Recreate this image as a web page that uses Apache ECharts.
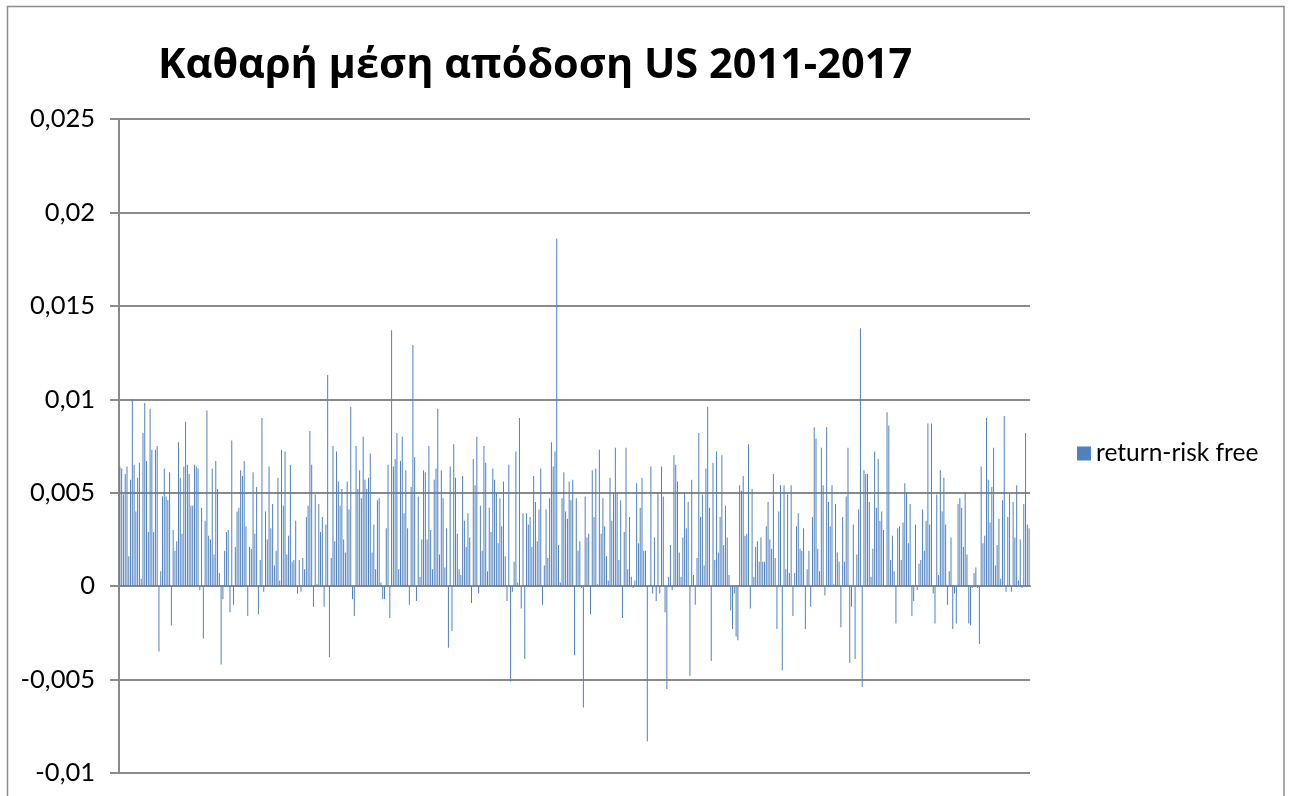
<!DOCTYPE html>
<html>
<head>
<meta charset="utf-8">
<title>Καθαρή μέση απόδοση US 2011-2017</title>
<script src="https://cdn.jsdelivr.net/npm/echarts@6/dist/echarts.min.js"></script>
<style>
  html, body { margin: 0; padding: 0; background: #ffffff; }
  #chart { width: 1293px; height: 796px; }
</style>
</head>
<body>
<div id="chart"></div>
<script>
// Net average return over the risk-free rate, US 2011-2017 (period by period)
const chartTitle = 'Καθαρή μέση απόδοση US 2011-2017';
const seriesName = 'return-risk free';

const returnsPart1 = [
  0.0064, 0.0063, 0.0049, 0.0060, 0.0064, 0.0016, 0.0057, 0.0100, 0.0065, 0.0040,
  0.0058, 0.0066, 0.0004, 0.0082, 0.0098, 0.0067, 0.0029, 0.0095, 0.0073, 0.0029,
  0.0073, 0.0075, -0.0035, 0.0008, 0.0048, 0.0063, 0.0048, 0.0046, 0.0061, -0.0021,
  0.0030, 0.0019, 0.0024, 0.0077, 0.0058, 0.0028, 0.0064, 0.0088, 0.0065, 0.0060,
  0.0043, 0.0043, 0.0065, 0.0064, 0.0063, -0.0002, 0.0042, -0.0028, 0.0035, 0.0094,
  0.0027, 0.0025, 0.0063, 0.0017, 0.0067, 0.0052, 0.0007, -0.0042, -0.0007, 0.0019,
  0.0029, 0.0030, -0.0014, 0.0078, -0.0010, 0.0021, 0.0040, 0.0042, 0.0062, 0.0059,
  0.0067, 0.0032, -0.0016, 0.0021, 0.0020, 0.0061, 0.0028, 0.0053, -0.0015, 0.0014,
  0.0090, -0.0003, 0.0040, 0.0025, 0.0064, 0.0031, 0.0044, 0.0011, 0.0019, 0.0058,
  0.0003, 0.0073, 0.0043, 0.0072, 0.0017, 0.0027, 0.0065, 0.0013, 0.0014, 0.0035,
  -0.0004, 0.0014
];

const returnsPart2 = [
  -0.0003, 0.0015, 0.0009, 0.0037, 0.0043, 0.0083, 0.0065, -0.0011, 0.0049, 0.0001,
  0.0044, 0.0029, 0.0037, -0.0011, 0.0033, 0.0113, -0.0038, 0.0015, 0.0075, 0.0024,
  0.0072, 0.0056, 0.0043, 0.0052, 0.0025, 0.0018, 0.0056, 0.0041, 0.0096, -0.0007,
  -0.0016, 0.0075, 0.0052, 0.0062, 0.0047, 0.0080, 0.0057, 0.0052, 0.0058, 0.0071,
  0.0018, 0.0033, 0.0009, 0.0046, 0.0047, 0.0002, -0.0007, -0.0007, 0.0031, 0.0065,
  -0.0017, 0.0137, 0.0064, 0.0068, 0.0082, 0.0009, 0.0067, 0.0080, 0.0039, 0.0062,
  0.0031, -0.0010, 0.0053, 0.0129, 0.0069, -0.0008, 0.0048, 0.0005, 0.0025, 0.0062,
  0.0061, 0.0025, 0.0075, 0.0030, 0.0009, 0.0057, 0.0063, 0.0095, 0.0017, 0.0062,
  0.0047, 0.0010, 0.0031, -0.0033, 0.0064, -0.0024, 0.0076, 0.0058, 0.0028, 0.0009,
  0.0006, 0.0059, 0.0035, 0.0021, 0.0039, 0.0026, -0.0009, 0.0068, 0.0054, 0.0080,
  -0.0004, 0.0043, 0.0019, 0.0075
];

const returnsPart3 = [
  0.0066, 0.0008, 0.0042, 0.0029, 0.0063, 0.0057, 0.0050, 0.0023, 0.0047, 0.0032,
  0.0056, 0.0016, -0.0008, 0.0065, -0.0051, -0.0003, 0.0013, 0.0072, 0.0002, 0.0090,
  -0.0012, 0.0039, -0.0039, 0.0039, 0.0033, 0.0037, 0.0021, 0.0059, 0.0045, 0.0024,
  0.0041, 0.0063, -0.0010, 0.0011, 0.0041, 0.0015, 0.0047, 0.0077, 0.0064, 0.0072,
  0.0186, 0.0022, 0.0002, 0.0047, 0.0061, 0.0040, 0.0036, 0.0056, 0.0046, 0.0057,
  -0.0037, 0.0047, 0.0019, 0.0024, -0.0001, -0.0065, 0.0048, 0.0026, 0.0028, -0.0015,
  0.0062, 0.0037, 0.0063, 0.0001, 0.0073, 0.0028, 0.0047, 0.0032, 0.0016, 0.0003,
  0.0058, 0.0035, 0.0050, 0.0074, 0.0050, 0.0014, 0.0046, -0.0017, 0.0029, 0.0074,
  0.0009, 0.0037, 0.0005, -0.0001, 0.0003, 0.0055, 0.0023, 0.0042, 0.0058, 0.0019,
  0.0019, -0.0083, 0.0000, 0.0064, -0.0004, 0.0026, -0.0008, 0.0050, -0.0004, 0.0064,
  0.0048, -0.0014
];

const returnsPart4 = [
  -0.0055, 0.0005, 0.0022, -0.0002, 0.0070, 0.0065, 0.0056, 0.0018, 0.0005, 0.0026,
  0.0050, 0.0031, 0.0045, -0.0048, 0.0057, 0.0006, -0.0010, 0.0015, 0.0082, 0.0037,
  0.0049, 0.0011, 0.0063, 0.0096, 0.0042, -0.0040, 0.0066, 0.0014, 0.0072, 0.0018,
  0.0037, 0.0070, 0.0022, 0.0043, 0.0026, 0.0006, -0.0013, -0.0023, -0.0004, -0.0027,
  -0.0029, 0.0054, 0.0051, 0.0059, 0.0027, 0.0028, 0.0076, -0.0012, 0.0052, 0.0005,
  0.0021, 0.0024, 0.0013, 0.0026, 0.0013, 0.0013, 0.0032, 0.0045, 0.0025, 0.0020,
  0.0060, 0.0015, -0.0023, 0.0040, 0.0054, -0.0045, 0.0054, 0.0009, 0.0049, 0.0007,
  0.0054, -0.0016, 0.0007, 0.0032, 0.0039, 0.0020, 0.0019, 0.0031, -0.0023, 0.0009,
  0.0019, -0.0011, 0.0037, 0.0085, 0.0079, 0.0020, 0.0008, 0.0074, 0.0054, -0.0005,
  0.0085, 0.0045, 0.0032, 0.0054, 0.0001, 0.0044, 0.0018, 0.0013, -0.0022, 0.0037,
  0.0013, 0.0048
];

const returnsPart5 = [
  0.0074, -0.0041, -0.0011, 0.0033, -0.0039, 0.0017, 0.0041, 0.0138, -0.0054, 0.0062,
  0.0060, 0.0060, 0.0045, 0.0005, 0.0020, 0.0072, 0.0042, 0.0068, 0.0035, 0.0040,
  0.0030, 0.0000, 0.0093, 0.0086, 0.0014, 0.0027, 0.0008, -0.0020, 0.0031, 0.0032,
  0.0014, 0.0034, 0.0055, 0.0050, 0.0023, 0.0044, -0.0016, -0.0008, 0.0033, -0.0002,
  0.0012, 0.0014, 0.0041, 0.0019, 0.0035, 0.0087, 0.0033, 0.0087, -0.0004, -0.0020,
  0.0049, 0.0006, 0.0062, 0.0040, 0.0058, 0.0033, -0.0010, 0.0008, 0.0026, -0.0023,
  -0.0004, -0.0020, 0.0044, 0.0047, 0.0042, 0.0021, 0.0050, 0.0017, -0.0020, -0.0021,
  -0.0001, 0.0007, 0.0010, -0.0001, -0.0031, 0.0064, 0.0023, 0.0027, 0.0090, 0.0057,
  0.0034, 0.0053, 0.0074, 0.0011, 0.0022, 0.0036, 0.0004, 0.0046, 0.0091, -0.0003,
  0.0037, 0.0050, -0.0003, 0.0045, 0.0026, 0.0054, 0.0003, 0.0025, -0.0001, 0.0044,
  0.0082, 0.0033, 0.0031
];

// Value axis: -0,01 .. 0,025 in steps of 0,005 (comma as decimal separator)
const yMin = -0.01;
const yMax = 0.025;
const yStep = 0.005;
const yTickLabels = ['-0,01', '-0,005', '0', '0,005', '0,01', '0,015', '0,02', '0,025'];

const returns = [].concat(returnsPart1, returnsPart2, returnsPart3, returnsPart4, returnsPart5);
const periods = returns.map((_, i) => String(i + 1));

const chart = echarts.init(document.getElementById('chart'), null, { renderer: 'canvas' });

const axisGray = '#8a8a8a';

chart.setOption({
  animation: false,
  backgroundColor: '#ffffff',
  textStyle: { fontFamily: 'Lato, "Open Sans", sans-serif' },
  title: {
    text: chartTitle,
    left: 153,
    top: 40,
    textStyle: {
      fontFamily: '"Open Sans", "Noto Sans", sans-serif',
      fontSize: 41.5,
      fontWeight: 'bold',
      color: '#000000'
    }
  },
  legend: {
    data: [seriesName],
    left: 1072,
    top: 436,
    orient: 'vertical',
    icon: 'rect',
    itemWidth: 14,
    itemHeight: 14,
    itemGap: 6,
    textStyle: {
      fontFamily: 'Lato, "Open Sans", sans-serif',
      fontSize: 24.5,
      color: '#000000'
    }
  },
  graphic: [{
    type: 'rect',
    shape: { x: 7.5, y: 6.5, width: 1276.5, height: 820 },
    style: { fill: null, stroke: '#8c8c8c', lineWidth: 1.5 },
    silent: true,
    z: 0
  }],
  grid: {
    left: 119,
    right: 263,
    top: 119,
    bottom: 23,
    containLabel: false
  },
  xAxis: {
    type: 'category',
    data: periods,
    boundaryGap: true,
    axisLine: { show: true, onZero: true, lineStyle: { color: axisGray, width: 2 } },
    axisTick: { show: false },
    axisLabel: { show: false },
    splitLine: { show: false }
  },
  yAxis: {
    type: 'value',
    min: yMin,
    max: yMax,
    interval: yStep,
    axisLine: { show: true, lineStyle: { color: axisGray, width: 2 } },
    axisTick: { show: true, inside: false, length: 9, lineStyle: { color: axisGray, width: 2 } },
    axisLabel: {
      margin: 24,
      fontFamily: 'Lato, "Open Sans", sans-serif',
      fontSize: 25.5,
      color: '#000000',
      formatter: function (v) {
        const idx = Math.round((v - yMin) / yStep);
        return yTickLabels[idx] !== undefined ? yTickLabels[idx] : '';
      }
    },
    splitLine: { show: true, lineStyle: { color: axisGray, width: 2 } }
  },
  series: [{
    name: seriesName,
    type: 'bar',
    data: returns,
    barWidth: '40%',
    itemStyle: { color: '#4F81BD' },
    emphasis: { disabled: true }
  }]
});
</script>
</body>
</html>
